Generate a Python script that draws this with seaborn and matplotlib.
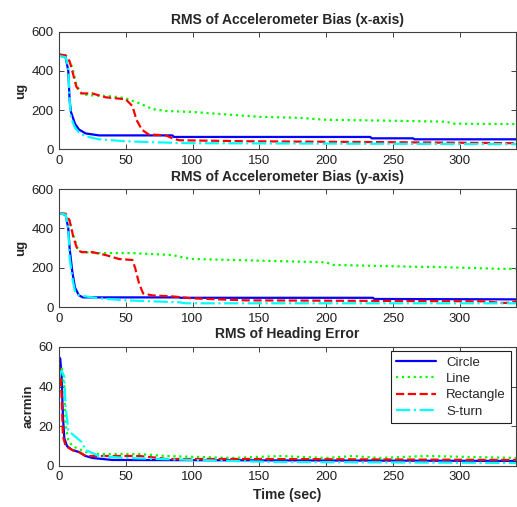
import numpy as np
import pandas as pd
import seaborn as sns
import matplotlib
matplotlib.use("Agg")
import matplotlib.pyplot as plt

# ---- panel 1: RMS of accelerometer bias, x-axis (ug) ----
x_circle_t = [0, 5, 7, 8, 9, 12, 15, 20, 30, 85, 86, 233, 234, 265, 266, 342]
x_circle_v = [480, 470, 400, 250, 190, 130, 100, 80, 70, 70, 62, 62, 55, 55, 50, 50]
x_line_t = [0, 5, 10, 13, 17, 25, 40, 50, 60, 70, 80, 100, 130, 150, 180, 200, 250, 290, 295, 342]
x_line_v = [485, 480, 420, 330, 280, 275, 270, 260, 235, 205, 195, 190, 175, 165, 160, 150, 145, 140, 130, 128]
x_rect_t = [0, 5, 8, 10, 13, 17, 25, 30, 35, 50, 55, 58, 62, 67, 80, 85, 90, 140, 250, 342]
x_rect_v = [485, 480, 450, 400, 320, 285, 285, 275, 265, 255, 220, 150, 100, 75, 70, 55, 45, 40, 35, 30]
x_sturn_t = [0, 5, 7, 8, 9, 12, 15, 20, 30, 50, 70, 100, 200, 342]
x_sturn_v = [478, 470, 420, 250, 160, 110, 85, 65, 50, 40, 35, 30, 28, 25]

# ---- panel 2: RMS of accelerometer bias, y-axis (ug) ----
y_circle_t = [0, 5, 7, 8, 10, 12, 15, 18, 90, 91, 235, 236, 342]
y_circle_v = [478, 470, 400, 300, 180, 100, 60, 50, 50, 48, 48, 42, 40]
y_line_t = [0, 5, 8, 10, 14, 17, 30, 55, 70, 85, 95, 100, 130, 160, 200, 205, 270, 280, 330, 342]
y_line_v = [478, 470, 440, 380, 300, 280, 275, 275, 270, 265, 250, 245, 240, 235, 228, 215, 205, 205, 195, 195]
y_rect_t = [0, 5, 8, 11, 14, 17, 25, 35, 45, 55, 57, 60, 63, 70, 85, 100, 140, 320, 330, 335, 342]
y_rect_v = [478, 475, 440, 350, 290, 280, 280, 265, 245, 240, 200, 120, 70, 60, 55, 45, 35, 30, 22, 22, 30]
y_sturn_t = [0, 5, 7, 8, 10, 12, 15, 20, 30, 50, 90, 95, 342]
y_sturn_v = [478, 470, 400, 250, 150, 80, 60, 55, 45, 35, 25, 20, 20]

# ---- panel 3: RMS of heading error (arcmin) ----
h_circle_t = [0, 1, 2, 3, 4, 6, 10, 15, 20, 25, 40, 342]
h_circle_v = [55, 54, 45, 25, 14, 10, 8, 7, 5, 4, 3, 2.5]
h_line_t = [0, 2, 4, 5, 7, 10, 20, 30, 60, 80, 130, 165, 200, 220, 240, 275, 342]
h_line_v = [48, 50, 40, 20, 13, 10, 7, 6, 6, 5, 4, 5, 4, 5, 4, 5, 4]
h_rect_t = [0, 1, 2, 3, 5, 10, 15, 20, 30, 60, 75, 80, 150, 342]
h_rect_v = [50, 48, 35, 15, 10, 8, 7, 5, 5, 5, 4, 3.5, 3.5, 3]
h_sturn_t = [0, 2, 4, 5, 7, 10, 17, 20, 30, 50, 100, 160, 342]
h_sturn_v = [45, 48, 45, 30, 18, 16, 12, 8, 5, 4, 3, 2, 1.5]

labels = ["Circle", "Line", "Rectangle", "S-turn"]
colors = ["#0000ff", "#00ff00", "#ff0000", "#00ffff"]
styles = ["-", ":", "--", "-."]

panels = [
    ("RMS of Accelerometer Bias (x-axis)", "ug", [0, 600], [0, 200, 400, 600],
     [(x_circle_t, x_circle_v), (x_line_t, x_line_v), (x_rect_t, x_rect_v), (x_sturn_t, x_sturn_v)]),
    ("RMS of Accelerometer Bias (y-axis)", "ug", [0, 600], [0, 200, 400, 600],
     [(y_circle_t, y_circle_v), (y_line_t, y_line_v), (y_rect_t, y_rect_v), (y_sturn_t, y_sturn_v)]),
    ("RMS of Heading Error", "acrmin", [0, 60], [0, 20, 40, 60],
     [(h_circle_t, h_circle_v), (h_line_t, h_line_v), (h_rect_t, h_rect_v), (h_sturn_t, h_sturn_v)]),
]

sns.set_style("ticks")
plt.rcParams["font.family"] = ["Liberation Sans", "DejaVu Sans"]

fig = plt.figure(figsize=(5.17, 5.07), dpi=100)
boxes = [[0.114, 0.706, 0.884, 0.231],
         [0.114, 0.394, 0.884, 0.233],
         [0.114, 0.081, 0.884, 0.235]]

for box, (title, ylab, ylim, yticks, series) in zip(boxes, panels):
    ax = fig.add_axes(box)
    for (t, v), lab, c, ls in zip(series, labels, colors, styles):
        df = pd.DataFrame({"t": t, "v": v})
        sns.lineplot(data=df, x="t", y="v", ax=ax, color=c, linestyle=ls,
                     linewidth=1.6, label=lab, sort=False, estimator=None)
    ax.set_xlim(0, 342)
    ax.set_ylim(*ylim)
    ax.set_yticks(yticks)
    ax.set_xticks([0, 50, 100, 150, 200, 250, 300])
    ax.tick_params(direction="in", top=True, right=True, labelsize=9.5, length=3.5,
                   width=0.7, color="#404040", labelcolor="#202020", pad=4)
    ax.set_title(title, fontsize=10, fontweight="bold", pad=6)
    ax.set_ylabel(ylab, fontsize=9.5, fontweight="bold", labelpad=3)
    ax.set_xlabel("")
    for s in ax.spines.values():
        s.set_linewidth(0.8)
        s.set_color("#404040")
    ax.get_legend().remove()

ax.set_xlabel("Time (sec)", fontsize=10, fontweight="bold", labelpad=3)
leg = ax.legend(loc="upper right", fontsize=9.5, frameon=True, fancybox=False,
                edgecolor="#202020", framealpha=1, borderaxespad=0.35,
                handlelength=3.0, labelspacing=0.3, borderpad=0.4)
leg.get_frame().set_linewidth(0.8)

fig.savefig("out.png", dpi=100)
